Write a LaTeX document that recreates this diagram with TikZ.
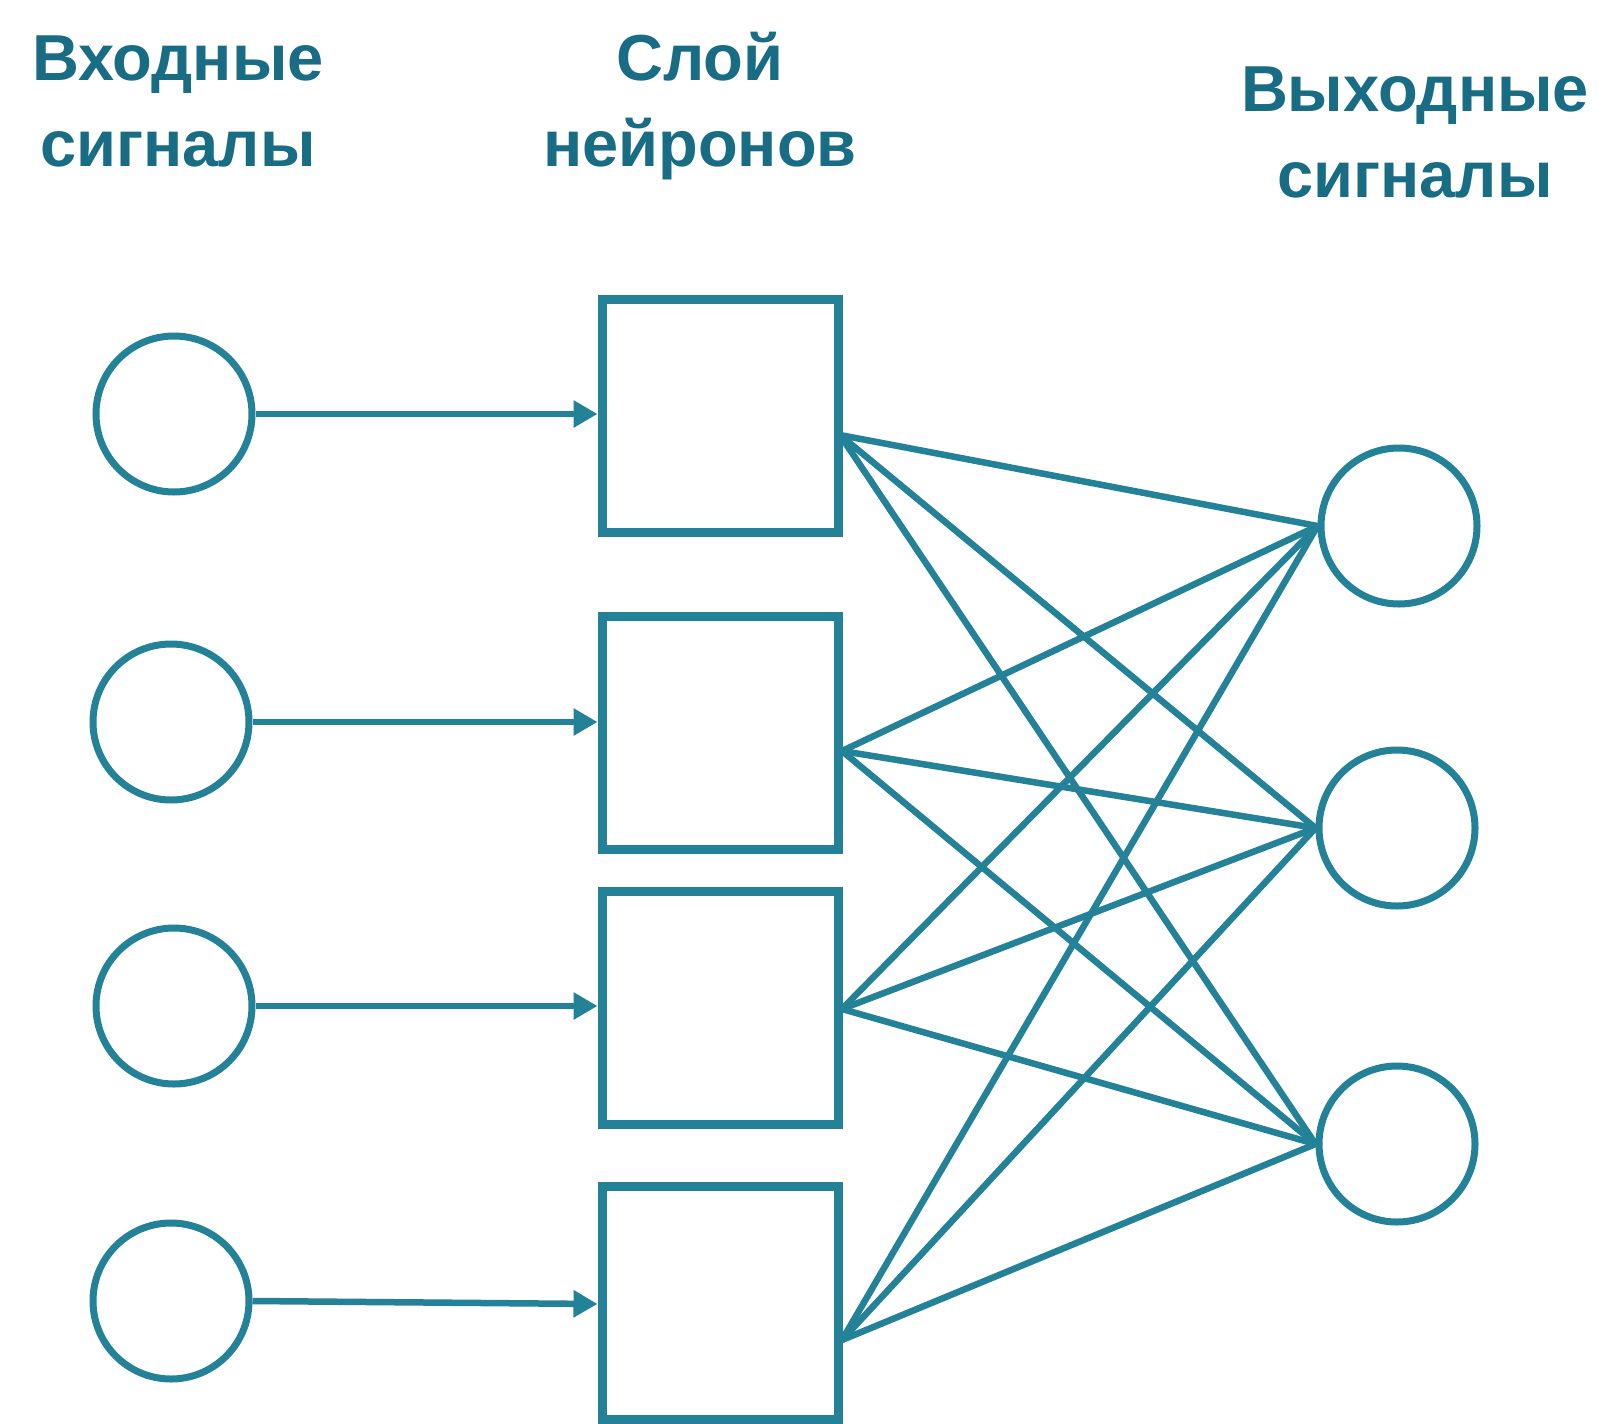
\documentclass[tikz,border=0pt]{standalone}
\usepackage{fontspec}
\setmainfont{Liberation Sans}
\usetikzlibrary{arrows.meta}
\definecolor{teal1}{RGB}{36,130,152}
\definecolor{tealtxt}{RGB}{24,108,132}
\begin{document}
\begin{tikzpicture}[x=1pt,y=-1pt,
  inp/.style={circle,draw=teal1,line width=7pt,minimum size=156pt,inner sep=0pt},
  neu/.style={rectangle,draw=teal1,line width=9pt,minimum width=236pt,minimum height=233pt,inner sep=0pt},
  link/.style={draw=teal1,line width=6.5pt},
  arr/.style={link,-{Triangle[length=24pt,width=26pt]}},
  lbl/.style={text=tealtxt,font=\fontsize{65}{86}\selectfont\bfseries,align=center,inner sep=0pt}]
\clip (0,0) rectangle (1623,1424);
\fill[white] (0,0) rectangle (1623,1424);
% labels (anchored at the baseline of the last line)
\node[lbl,anchor=base] (t1) at (178,166) {Входные\\сигналы};
\node[lbl,anchor=base] (t2) at (700,166) {Слой\\нейронов};
\node[lbl,anchor=base] (t3) at (1415,197) {Выходные\\сигналы};
% inputs
\node[inp] (i1) at (174,414) {};
\node[inp] (i2) at (171,722) {};
\node[inp] (i3) at (174,1006) {};
\node[inp] (i4) at (171,1301) {};
% neurons
\node[neu] (b1) at (720,416) {};
\node[neu] (b2) at (720,733) {};
\node[neu] (b3) at (720,1008) {};
\node[neu] (b4) at (720,1303) {};
% outputs
\node[inp] (o1) at (1399,526) {};
\node[inp] (o2) at (1397,828) {};
\node[inp] (o3) at (1397,1144) {};
% connection points
\coordinate (r1) at (840,435);
\coordinate (r2) at (842,751);
\coordinate (r3) at (842,1009);
\coordinate (r4) at (842,1340);
% input arrows
\draw[arr] (i1.east) -- (i1.east -| b1.west);
\draw[arr] (i2.east) -- (i2.east -| b2.west);
\draw[arr] (i3.east) -- (i3.east -| b3.west);
\draw[arr] (i4.east) -- (b4.west |- 0,1304);
% full connections
\foreach \r in {r1,r2,r3,r4}
  \foreach \o in {o1,o2,o3}
    \draw[link] (\r) -- (\o.west);
\end{tikzpicture}
\end{document}
